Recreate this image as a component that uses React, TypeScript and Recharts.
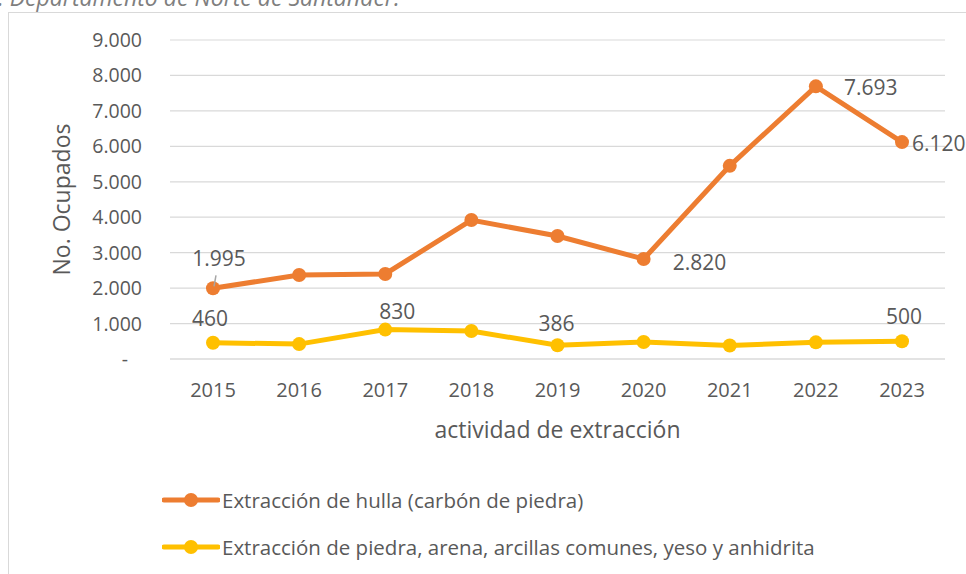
import React from 'react';
import { LineChart, Line, XAxis, YAxis, CartesianGrid, LabelList } from 'recharts';

const years = ['2015', '2016', '2017', '2018', '2019', '2020', '2021', '2022', '2023'];
const hulla = [1995, 2370, 2400, 3920, 3470, 2820, 5450, 7693, 6120];
const piedra = [460, 420, 830, 790, 386, 480, 380, 470, 500];
const yTicks = [0, 1000, 2000, 3000, 4000, 5000, 6000, 7000, 8000, 9000];

const seriesNames = [
  'Extracción de hulla (carbón de piedra)',
  'Extracción de piedra, arena, arcillas comunes, yeso y anhidrita',
];

const ORANGE = '#ED7D31';
const YELLOW = '#FFC000';
const TEXT = '#595959';
const FONT = '"Open Sans", "Noto Sans", sans-serif';

const data = years.map((y, i) => ({ year: y, hulla: hulla[i], piedra: piedra[i] }));

// Spanish number format: 7693 -> 7.693
const fmt = (v: number) => String(v).replace(/\B(?=(\d{3})+(?!\d))/g, '.');

// which points get labels and where (dx, dy from point, anchor)
const hullaLabelPos: Record<number, [number, number, string]> = {
  0: [6, -30, 'middle'],
  5: [29, 3, 'start'],
  7: [28, 1, 'start'],
  8: [10, 1, 'start'],
};
const piedraLabelPos: Record<number, [number, number, string]> = {
  0: [-3, -24, 'middle'],
  2: [12, -18, 'middle'],
  4: [-1, -22, 'middle'],
  8: [2, -25, 'middle'],
};

const makeLabel = (pos: Record<number, [number, number, string]>, leader?: number) => (props: any) => {
  const { x, y, index, value } = props;
  const p = pos[index];
  if (!p) return null;
  return (
    <g>
      {leader === index && (
        <line x1={x + 1} y1={y - 2} x2={x + 3} y2={y - 13} stroke="#a6a6a6" strokeWidth={1.5} />
      )}
      <text
        x={x + p[0]}
        y={y + p[1]}
        dy="0.36em"
        textAnchor={p[2] as any}
        fill={TEXT}
        fontSize={21}
        fontFamily={FONT}
      >
        {fmt(value)}
      </text>
    </g>
  );
};

const YTick = (props: any) => {
  const { x, y, payload } = props;
  const zero = payload.value === 0;
  return (
    <text x={zero ? x - 14 : x} y={y} dy="0.36em" textAnchor="end" fill={TEXT} fontSize={19.5} fontFamily={FONT}>
      {zero ? '-' : fmt(payload.value)}
    </text>
  );
};

const LegendRow = ({ color, label, top }: { color: string; label: string; top: number }) => (
  <div style={{ position: 'absolute', left: 162, top: top - 14, height: 28, display: 'flex', alignItems: 'center' }}>
    <svg width={58} height={24}>
      <line x1={2} y1={12} x2={56} y2={12} stroke={color} strokeWidth={5} strokeLinecap="round" />
      <circle cx={29} cy={12} r={7} fill={color} />
    </svg>
    <span style={{ fontFamily: FONT, fontSize: 20.5, color: TEXT, marginLeft: 2, whiteSpace: 'nowrap' }}>{label}</span>
  </div>
);

export default function App() {
  return (
    <div style={{ position: 'absolute', left: 0, top: 0, width: 966, height: 574, overflow: 'hidden', background: '#fff' }}>
      <div
        style={{
          position: 'absolute',
          left: -2,
          top: -19,
          fontFamily: FONT,
          fontStyle: 'italic',
          fontSize: 23,
          color: '#7f7f7f',
          whiteSpace: 'nowrap',
        }}
      >
        . Departamento de Norte de Santander.
      </div>
      <div
        style={{
          position: 'absolute',
          left: 8,
          top: 12,
          width: 1000,
          height: 600,
          border: '1px solid #d9d9d9',
        }}
      />
      <div style={{ position: 'absolute', left: 0, top: 0 }}>
        <LineChart width={966} height={460} data={data} margin={{ top: 40, right: 21, left: 0, bottom: 21 }}>
          <CartesianGrid vertical={false} stroke="#d9d9d9" strokeWidth={1.2} />
          <XAxis
            dataKey="year"
            height={80}
            padding={{ left: 43, right: 43 }}
            axisLine={{ stroke: '#d9d9d9', strokeWidth: 1.2 }}
            tickLine={false}
            tickMargin={18}
            tick={{ fill: TEXT, fontSize: 20, fontFamily: FONT }}
            label={{
              value: 'actividad de extracción',
              position: 'insideBottom',
              offset: 1,
              fill: TEXT,
              fontSize: 23,
              fontFamily: FONT,
            }}
          />
          <YAxis
            width={170}
            domain={[0, 9000]}
            ticks={yTicks}
            axisLine={false}
            tickLine={false}
            tickMargin={22}
            tick={<YTick />}
            label={{
              value: 'No. Ocupados',
              angle: -90,
              position: 'insideLeft',
              offset: 62,
              fill: TEXT,
              fontSize: 23,
              fontFamily: FONT,
              style: { textAnchor: 'middle' },
            }}
          />
          <Line
            dataKey="hulla"
            stroke={ORANGE}
            strokeWidth={5}
            dot={{ r: 7, fill: ORANGE, stroke: ORANGE, strokeWidth: 0 }}
            isAnimationActive={false}
          >
            <LabelList dataKey="hulla" content={makeLabel(hullaLabelPos, 0)} />
          </Line>
          <Line
            dataKey="piedra"
            stroke={YELLOW}
            strokeWidth={5}
            dot={{ r: 7, fill: YELLOW, stroke: YELLOW, strokeWidth: 0 }}
            isAnimationActive={false}
          >
            <LabelList dataKey="piedra" content={makeLabel(piedraLabelPos)} />
          </Line>
        </LineChart>
      </div>
      <LegendRow color={ORANGE} label={seriesNames[0]} top={500} />
      <LegendRow color={YELLOW} label={seriesNames[1]} top={547} />
    </div>
  );
}
